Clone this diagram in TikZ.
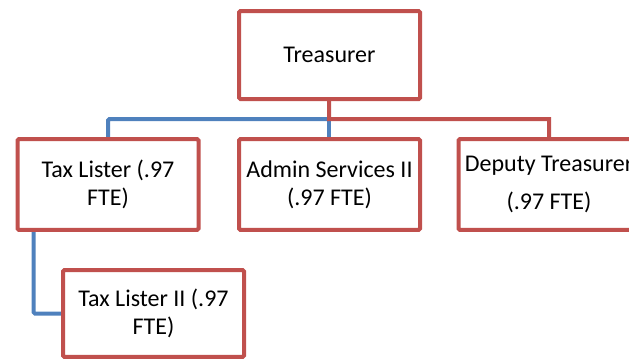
\documentclass[tikz,border=0pt]{standalone}
\usepackage{fontspec}
\setmainfont{Carlito}
\usetikzlibrary{backgrounds}
\definecolor{boxred}{HTML}{C0504D}
\definecolor{lineblue}{HTML}{4F81BD}
\begin{document}
\begin{tikzpicture}[x=0.75pt,y=-0.75pt,
  post/.style={draw=boxred,line width=3pt,fill=white,rounded corners=1pt,
    minimum width=135.75pt,minimum height=68pt,align=center,
    font=\fontsize{18}{21}\selectfont},
  redline/.style={draw=boxred,line width=3pt},
  blueline/.style={draw=lineblue,line width=3pt,rounded corners=1pt}]
\useasboundingbox (0,0) rectangle (629,361);
\clip (0,0) rectangle (629,361);
\node[post,minimum height=66pt] (treasurer) at (329.5,55) {Treasurer};
\node[post] (taxlister) at (108,184.5) {Tax Lister (.97\\FTE)};
\node[post] (admin) at (329.5,184.5) {Admin Services II\\(.97 FTE)};
\node[post] (deputy) at (549,184.5) {Deputy Treasurer\\[7pt](.97 FTE)};
\node[post,minimum height=65pt] (taxlister2) at (153.5,313.5) {Tax Lister II (.97\\FTE)};
\coordinate (bus) at (329,119);
\begin{scope}[on background layer]
\draw[blueline] (bus) -| (taxlister);
\draw[blueline] (bus) -- (bus |- admin.north);
\draw[redline] (treasurer) -- (bus) -| (deputy);
\draw[blueline] ([xshift=13.5pt]taxlister.south west) |- (taxlister2.west);
\end{scope}
\end{tikzpicture}
\end{document}
